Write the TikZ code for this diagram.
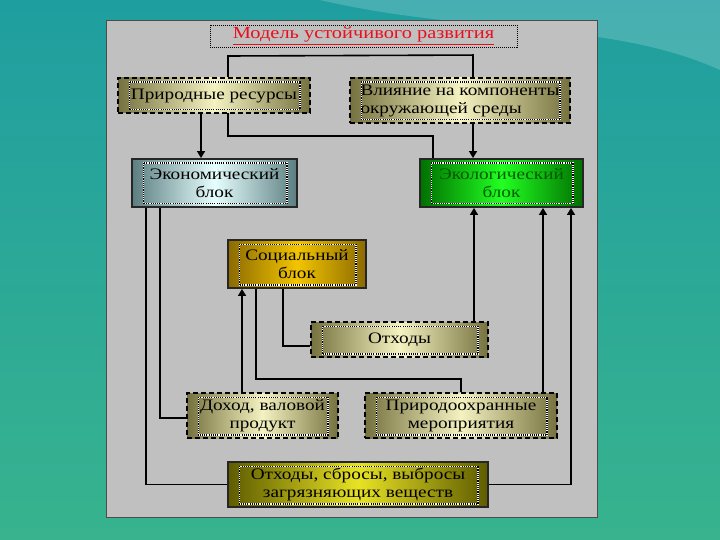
\documentclass[tikz,border=0pt]{standalone}
\usepackage{fontspec}
\setmainfont{Liberation Serif}[FakeStretch=1.2]
\usetikzlibrary{arrows.meta,backgrounds}
\definecolor{bgTop}{HTML}{1F9EA0}
\definecolor{bgBot}{HTML}{38B38E}
\definecolor{panelgray}{HTML}{C0C0C0}
\definecolor{olD}{HTML}{767240}
\definecolor{olL}{HTML}{F4F2C0}
\definecolor{ekD}{HTML}{5C7E80}
\definecolor{ekL}{HTML}{E6FEFE}
\definecolor{egD}{HTML}{007000}
\definecolor{egL}{HTML}{22FF22}
\definecolor{soD}{HTML}{8C6A00}
\definecolor{soL}{HTML}{F2C400}
\definecolor{btD}{HTML}{5E5C00}
\definecolor{btL}{HTML}{E8E224}
\definecolor{titlered}{HTML}{E8101C}
\definecolor{egtext}{HTML}{005A00}
\newcommand\innerdots[1]{%
  \draw[white,line width=1.1pt] ([xshift=12pt,yshift=-5pt]#1.north west) rectangle ([xshift=-11pt,yshift=4pt]#1.south east);
  \draw[black,line width=1.1pt,dash pattern=on 1.1pt off 1.1pt] ([xshift=12pt,yshift=-5pt]#1.north west) rectangle ([xshift=-11pt,yshift=4pt]#1.south east);}
\begin{document}
\begin{tikzpicture}[x=1pt,y=-1pt,
  boxbase/.style={inner sep=0pt, align=center, font=\fontsize{16}{18}\selectfont},
  dashbox/.style={boxbase, draw=black, line width=1.9pt, dash pattern=on 5pt off 3pt,
     left color=olD, right color=olD, middle color=olL},
  solidbox/.style={boxbase, draw=black!85, line width=1.9pt},
  conn/.style={line width=1.6pt, black},
  arr/.style={conn, -{Triangle[length=7pt,width=8pt]}}]
\useasboundingbox (0,0) rectangle (720,540);

% boxes
\node[dashbox, minimum width=192pt, minimum height=35pt] (pr) at (214,95.5) {Природные ресурсы};
\node[dashbox, minimum width=220pt, minimum height=45pt, align=left] (vl) at (460,100.5) {Влияние на компоненты\\окружающей среды};
\node[solidbox, minimum width=165pt, minimum height=48pt, left color=ekD, right color=ekD, middle color=ekL] (ek) at (214.5,183) {Экономический\\блок};
\node[solidbox, minimum width=163pt, minimum height=48pt, left color=egD, right color=egD, middle color=egL, text=egtext] (eg) at (501.5,183) {Экологический\\блок};
\node[solidbox, minimum width=138pt, minimum height=48pt, left color=soD, right color=soD, middle color=soL] (so) at (297,264) {Социальный\\блок};
\node[dashbox, minimum width=177pt, minimum height=35pt] (ot) at (399.5,339.5) {Отходы};
\node[dashbox, minimum width=151pt, minimum height=45pt] (dx) at (262.5,415.5) {Доход, валовой\\продукт};
\node[dashbox, minimum width=192pt, minimum height=45pt] (pm) at (461,415.5) {Природоохранные\\мероприятия};
\node[solidbox, minimum width=260pt, minimum height=45pt, left color=btD, right color=btD, middle color=btL] (bt) at (358,484.5) {Отходы, сбросы, выбросы\\загрязняющих веществ};
\node[inner sep=0pt, minimum width=307pt, minimum height=22pt, draw=black, line width=0.8pt,
  dash pattern=on 1pt off 1pt, text=titlered, font=\fontsize{17}{19}\selectfont] (title) at (363.5,36) {\underline{Модель устойчивого развития}};

\foreach \n in {pr,vl,ek,eg,so,ot,dx,pm,bt}{\innerdots{\n}}

\begin{scope}[on background layer]
  \shade[top color=bgTop, bottom color=bgBot] (0,0) rectangle (720,540);
  \fill[white, opacity=0.18] (320,0) .. controls (470,35) and (610,20) .. (720,70) -- (720,0) -- cycle;
  \fill[panelgray] (106,20) rectangle (597,517);
  \draw[black!70, line width=0.8pt] (106,20) rectangle (597,517);
  \coordinate (tA) at ([xshift=13pt,yshift=22pt]vl.north);
  \coordinate (tB) at (228,56);
  \coordinate (tC) at (228,136);
  % connectors
  \draw[conn] ([xshift=13pt]vl.north) -- (tA) -- (tB) -- (tC) -| ([xshift=-68.5pt]eg.north);
  \draw[arr] ([xshift=-13pt]pr.south) -- ([xshift=-13.5pt]ek.north);
  \draw[arr] ([xshift=13pt]vl.south) -- ([xshift=-28.5pt]eg.north);
  \draw[conn] ([xshift=-68.5pt]ek.south) |- (bt.west);
  \draw[conn] ([xshift=-54.5pt]ek.south) |- ([yshift=-2.5pt]dx.west);
  \draw[arr] ([xshift=-20.5pt]dx.north) -- ([xshift=-55pt]so.south);
  \draw[conn] ([xshift=-41pt]so.south) |- ([yshift=13pt]pm.north) -- (pm.north);
  \draw[conn] ([xshift=-14pt]so.south) |- ([yshift=-6.5pt]ot.west);
  \draw[arr] ([xshift=74.5pt]ot.north) -- ([xshift=-27.5pt]eg.south);
  \draw[arr] ([xshift=82pt]pm.north) -- ([xshift=41.5pt]eg.south);
  \draw[arr] (bt.east) -| ([xshift=69.5pt]eg.south);
\end{scope}
\end{tikzpicture}
\end{document}
